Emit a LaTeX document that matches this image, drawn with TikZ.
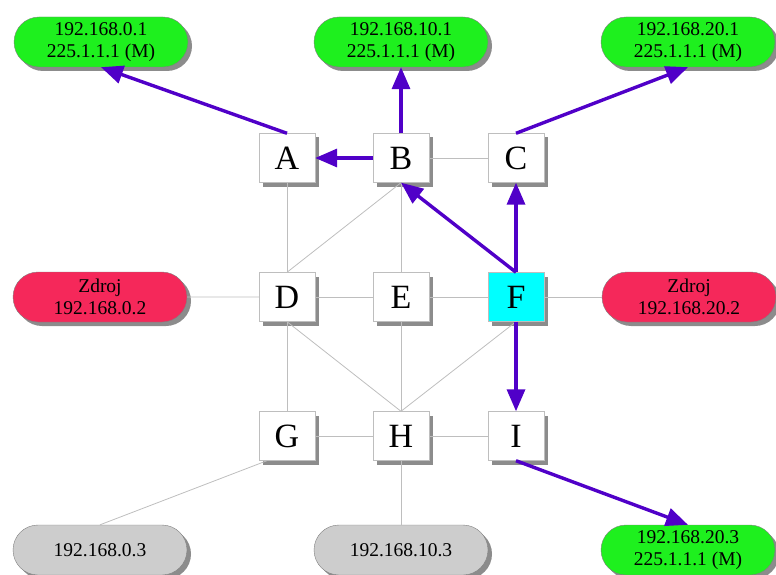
\documentclass[tikz,border=0pt]{standalone}
\usepackage{fontspec}
\setmainfont{Liberation Serif}
\usetikzlibrary{positioning,arrows.meta,shapes.misc,shadows}
\definecolor{mcblue}{RGB}{80,0,200}
\definecolor{mcgreen}{RGB}{30,240,30}
\definecolor{mcred}{RGB}{245,40,90}
\definecolor{mccyan}{RGB}{0,255,255}
\definecolor{mcgray}{RGB}{205,205,205}
\definecolor{mcedge}{RGB}{190,190,190}
\begin{document}
\begin{tikzpicture}[x=1pt,y=-1pt,
    router/.style={draw=mcedge,fill=white,minimum width=56,minimum height=49,inner sep=0pt,
      font=\fontsize{34}{36}\selectfont,
      drop shadow={shadow xshift=4pt,shadow yshift=-4pt,fill=black!45,opacity=1}},
    host/.style={rounded rectangle,draw=black!50,minimum width=176,minimum height=50,inner sep=1pt,
      align=center,font=\fontsize{19.5}{22}\selectfont,
      drop shadow={shadow xshift=4pt,shadow yshift=-4pt,fill=black!45,opacity=1}},
    member/.style={host,fill=mcgreen},
    source/.style={host,fill=mcred},
    silent/.style={host,fill=mcgray},
    link/.style={mcedge,line width=0.8pt},
    tree/.style={mcblue,line width=3.4pt,-{Triangle[length=22pt,width=18pt]}}]
  \useasboundingbox (0,0) rectangle (776,575);
  % routers
  \node[router] (A) at (287,158) {A};
  \node[router] (B) at (401,158) {B};
  \node[router] (C) at (516,158) {C};
  \node[router] (D) at (287,297) {D};
  \node[router] (E) at (401,297) {E};
  \node[router,fill=mccyan] (F) at (516,297) {F};
  \node[router] (G) at (287,436) {G};
  \node[router] (H) at (401,436) {H};
  \node[router] (I) at (516,436) {I};
  % hosts
  \node[member] (gA) at (101,42) {192.168.0.1\\225.1.1.1 (M)};
  \node[member] (gB) at (401,42) {192.168.10.1\\225.1.1.1 (M)};
  \node[member] (gC) at (688,42) {192.168.20.1\\225.1.1.1 (M)};
  \node[source] (zD) at (100,297) {Zdroj\\192.168.0.2};
  \node[source] (zF) at (689,297) {Zdroj\\192.168.20.2};
  \node[silent] (sG) at (100,550) {192.168.0.3};
  \node[silent] (sH) at (401,550) {192.168.10.3};
  \node[member] (gI) at (688,550) {192.168.20.3\\225.1.1.1 (M)};
  % plain links
  \draw[link] (B) -- (C);
  \draw[link] (zD) -- (D);
  \draw[link] (D) -- (E);
  \draw[link] (E) -- (F);
  \draw[link] (F) -- (zF);
  \draw[link] (G) -- (H);
  \draw[link] (H) -- (I);
  \draw[link] (A.south) -- (D.north);
  \draw[link] (D.south) -- (G.north);
  \draw[link] (B.south) -- (E.north);
  \draw[link] (E.south) -- (H.north);
  \draw[link] (B.south) -- (D.north);
  \draw[link] (D.south) -- (H.north);
  \draw[link] (F.south) -- (H.north);
  \draw[link] (H.south) -- (sH.north);
  \draw[link] ([xshift=-20pt]G.south) -- (sG.north);
  % multicast tree
  \draw[tree] (F.north) -- (C.south);
  \draw[tree] (F.north) -- (B.south);
  \draw[tree] (F.south) -- (I.north);
  \draw[tree] (B.west) -- (A.east);
  \draw[tree] (B.north) -- (gB.south);
  \draw[tree] (A.north) -- (gA.south);
  \draw[tree] (C.north) -- (gC.south);
  \draw[tree] (I.south) -- (gI.north);
\end{tikzpicture}
\end{document}
